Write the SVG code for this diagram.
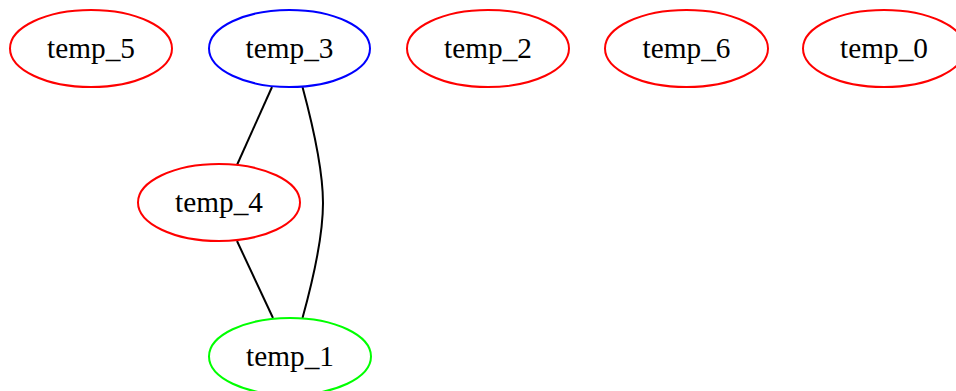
<svg xmlns="http://www.w3.org/2000/svg" width="956" height="391" viewBox="0 0 956 391">
<style>
.n ellipse{fill:none;stroke-width:2}
.n text{font-family:"Liberation Serif","Times New Roman",serif;font-size:29.3px;text-anchor:middle;fill:#000}
.e path{fill:none;stroke:#000;stroke-width:2}
</style>
<rect width="956" height="391" fill="#fff"/>
<g class="e" id="edges">
<path d="M272,87 L237,165"/>
<path d="M237,241 L273,318"/>
<path d="M302.5,87 C313,126 323,170 323,203 C323,237 313,280 302.5,318"/>
</g>
<g class="n" id="temp_5"><ellipse cx="91" cy="48.5" rx="81" ry="38.5" stroke="#ff0000"/><text x="91" y="58">temp_5</text></g>
<g class="n" id="temp_3"><ellipse cx="289.5" cy="48.5" rx="80.5" ry="38.5" stroke="#0000ff"/><text x="289.5" y="58">temp_3</text></g>
<g class="n" id="temp_2"><ellipse cx="488" cy="48.5" rx="81" ry="38.5" stroke="#ff0000"/><text x="488" y="58">temp_2</text></g>
<g class="n" id="temp_6"><ellipse cx="686.5" cy="48.5" rx="81.5" ry="38.5" stroke="#ff0000"/><text x="686.5" y="58">temp_6</text></g>
<g class="n" id="temp_0"><ellipse cx="884" cy="48.5" rx="81" ry="38.5" stroke="#ff0000"/><text x="884" y="58">temp_0</text></g>
<g class="n" id="temp_4"><ellipse cx="219" cy="202.5" rx="81" ry="38.5" stroke="#ff0000"/><text x="219" y="212">temp_4</text></g>
<g class="n" id="temp_1"><ellipse cx="290" cy="356.5" rx="81" ry="38.5" stroke="#00ff00"/><text x="290" y="366">temp_1</text></g>
</svg>
